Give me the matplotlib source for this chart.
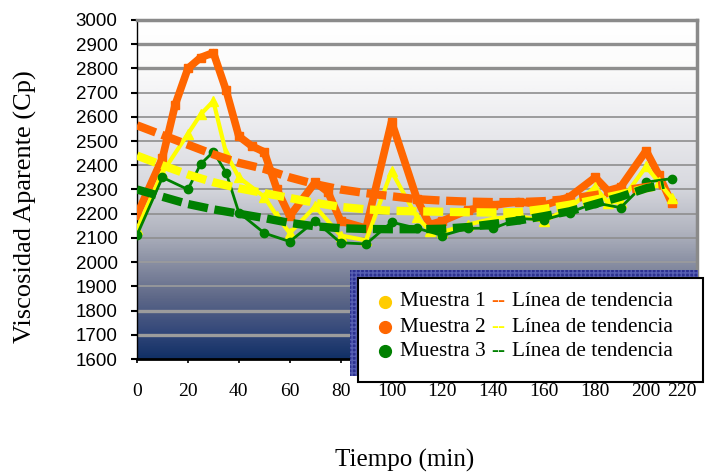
import numpy as np
import matplotlib
matplotlib.use("Agg")
import matplotlib.pyplot as plt
from matplotlib.colors import LinearSegmentedColormap
from matplotlib.patches import Rectangle

W, H = 709, 472

# Muestra 1 (amarillo)
t1 = [0, 10, 20, 25, 30, 35, 40, 50, 55, 60, 70, 80, 90, 100, 110, 115, 120,
      130, 140, 150, 160, 170, 180, 185, 190, 200, 205, 210]
v1 = [2135, 2370, 2530, 2610, 2665, 2450, 2350, 2270, 2190, 2120, 2230, 2110,
      2090, 2375, 2185, 2130, 2125, 2155, 2180, 2190, 2170, 2225, 2310, 2245,
      2250, 2395, 2330, 2265]

# Muestra 2 (naranja)
t2 = [0, 10, 15, 20, 25, 30, 35, 40, 45, 50, 55, 60, 70, 75, 80, 90, 100, 110,
      115, 120, 130, 140, 150, 160, 170, 180, 185, 190, 200, 205, 210]
v2 = [2195, 2430, 2650, 2800, 2845, 2865, 2710, 2520, 2480, 2455, 2300, 2190,
      2330, 2290, 2170, 2140, 2580, 2260, 2155, 2170, 2215, 2235, 2250, 2235,
      2270, 2350, 2295, 2310, 2460, 2360, 2245]

# Muestra 3 (verde)
t3 = [0, 10, 20, 25, 30, 35, 40, 50, 60, 70, 80, 90, 100, 110, 120, 130, 140,
      150, 160, 170, 180, 190, 200, 210]
v3 = [2112, 2350, 2300, 2405, 2456, 2370, 2205, 2120, 2085, 2170, 2080, 2075,
      2165, 2140, 2110, 2140, 2140, 2180, 2175, 2205, 2245, 2225, 2330, 2345]

# Líneas de tendencia
t_tend = [0, 10, 20, 30, 40, 50, 60, 70, 80, 90, 100, 110, 120, 130, 140, 150,
          160, 170, 180, 190, 200, 207]
tend_naranja = [2565, 2525, 2485, 2445, 2410, 2385, 2350, 2322, 2300, 2285,
                2272, 2260, 2254, 2250, 2248, 2248, 2252, 2261, 2277, 2294,
                2310, 2320]
tend_amarillo = [2440, 2400, 2362, 2330, 2305, 2285, 2265, 2245, 2228, 2218,
                 2212, 2210, 2208, 2206, 2205, 2207, 2220, 2237, 2258, 2280,
                 2305, 2318]
tend_verde = [2300, 2270, 2240, 2218, 2200, 2182, 2162, 2148, 2140, 2137, 2136,
              2136, 2138, 2145, 2158, 2172, 2190, 2210, 2240, 2270, 2305, 2320]

y_ticks = list(range(1600, 3001, 100))
x_ticks = list(range(0, 221, 20))

AMARILLO = "#FFFF00"
NARANJA = "#FF6600"
VERDE = "#008000"

SERIF = "Liberation Serif"
SANS = "Liberation Sans"

fig = plt.figure(figsize=(W / 100, H / 100), dpi=100)
ax = fig.add_axes([137 / W, 1 - 359 / H, (697 - 137) / W, (359 - 20) / H])
ax.set_xlim(0, 220)
ax.set_ylim(1600, 3000)

# fondo degradado blanco -> azul marino
bg = LinearSegmentedColormap.from_list("fondo", [
    (0.00, "#FFFFFF"), (0.12, "#FCFCFC"), (0.28, "#EEEEF1"),
    (0.48, "#D9DAE0"), (0.62, "#B2B5C0"), (0.72, "#888EA2"),
    (0.82, "#5E6888"), (0.92, "#34487A"), (1.00, "#113066")])
grad = np.linspace(0, 1, 400).reshape(-1, 1)
ax.imshow(grad, cmap=bg, extent=(0, 220, 1600, 3000), origin="upper",
          aspect="auto", zorder=0, interpolation="bilinear")

# líneas de división
thick = {2900, 2800, 1800, 1700}
for yv in y_ticks[1:-1]:
    ax.axhline(yv, color="#8E8E8E" if yv > 2000 else "#9C9C9C",
               lw=2.4 if yv in thick else 1.2, zorder=1)

# series
ax.plot(t2, v2, color=NARANJA, lw=5.5, marker="s", ms=6, zorder=3)
ax.plot(t1, v1, color=AMARILLO, lw=3.0, marker="^", ms=7.5, zorder=4)
ax.plot(t3, v3, color=VERDE, lw=2.0, marker="o", ms=6, zorder=5)

# tendencias
for tv, col in ((tend_naranja, NARANJA), (tend_amarillo, AMARILLO),
                (tend_verde, VERDE)):
    ax.plot(t_tend, tv, color=col, lw=6, ls=(0, (2.4, 0.8)),
            dash_capstyle="butt", zorder=6)

ax.set_yticks(y_ticks)
ax.set_xticks(x_ticks)
ax.set_yticklabels([str(v) for v in y_ticks], fontsize=13.5, family=SANS)
ax.set_xticklabels([str(v) for v in x_ticks], fontsize=14, family=SERIF)
ax.get_xticklabels()[-1].set_horizontalalignment("right")
ax.tick_params(axis="y", direction="out", length=4, width=1.5, pad=10)
ax.tick_params(axis="x", direction="out", length=3, width=1.2, pad=14)

ax.spines["left"].set_color("black")
ax.spines["left"].set_linewidth(1.0)
ax.spines["bottom"].set_color("black")
ax.spines["bottom"].set_linewidth(2.0)
for s in ("top", "right"):
    ax.spines[s].set_color("#8A8A8A")
    ax.spines[s].set_linewidth(2.5)

fig.text(25 / W, 1 - 207 / H, "Viscosidad Aparente (Cp)", rotation=90,
         ha="center", va="center", fontsize=19, family=SERIF)
fig.text(405 / W, 1 - 460 / H, "Tiempo (min)", ha="center", va="center",
         fontsize=18, family=SERIF)

# leyenda
ov = fig.add_axes([0, 0, 1, 1], zorder=10)
ov.set_xlim(0, W)
ov.set_ylim(H, 0)
ov.axis("off")
ov.patch.set_alpha(0)
ov.add_patch(Rectangle((350, 270), 348, 106, facecolor="#2C3190",
                       edgecolor="#5860B4", hatch="++++", lw=0))
ov.add_patch(Rectangle((358, 278), 345, 104, facecolor="white",
                       edgecolor="black", lw=1.5))

filas = [("Muestra 1", "#FFCC00", NARANJA, 302),
         ("Muestra 2", NARANJA, AMARILLO, 327),
         ("Muestra 3", VERDE, VERDE, 351)]
for nombre, c_mk, c_dash, yy in filas:
    ov.plot(385, yy, "o", ms=8.5, color=c_mk)
    ov.text(400, yy, nombre, va="center", ha="left", fontsize=15.3, family=SERIF)
    ov.text(491, yy, "--", va="center", ha="left", fontsize=15.3, family=SERIF,
            color=c_dash)
    ov.text(512, yy, "Línea de tendencia", va="center", ha="left",
            fontsize=15.3, family=SERIF)

fig.savefig("out.png", dpi=100)
